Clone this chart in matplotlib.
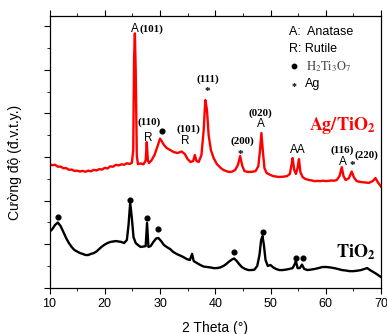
import numpy as np
import matplotlib
matplotlib.use("Agg")
import matplotlib.pyplot as plt
from matplotlib.ticker import MultipleLocator

plt.rcParams['font.family'] = ['Liberation Sans', 'DejaVu Sans']
plt.rcParams['mathtext.fontset'] = 'stix'

# Ag/TiO2 pattern (2 theta, intensity in a.u.)
ag_theta = [10.0, 10.5, 11.0, 11.5, 12.0, 12.5, 13.0, 13.5, 14.0, 14.5, 15.0, 15.5,
            16.0, 16.5, 17.0, 17.5, 18.0, 18.5, 19.0, 19.5, 20.0, 20.5, 21.0, 21.5,
            22.0, 22.5, 23.0, 23.5, 24.0, 24.5, 24.9, 25.15, 25.3, 25.45, 25.6, 25.8,
            26.0, 26.5, 27.0, 27.4, 27.6, 27.8, 28.0, 28.5, 29.0, 29.5, 30.0, 30.3,
            30.7, 31.2, 31.8, 32.5, 33.2, 33.9, 34.5, 35.0, 35.5, 36.0, 36.3, 36.6,
            37.0, 37.5, 37.9, 38.2, 38.5, 38.8, 39.2, 39.7, 40.3, 41.0, 41.5, 42.0,
            42.5, 43.0, 43.6, 44.1, 44.5, 44.9, 45.3, 46.0, 46.7, 47.3, 47.8, 48.1,
            48.35, 48.6, 48.9, 49.3, 50.0, 50.5, 51.0, 51.5, 52.0, 52.5, 53.0, 53.5,
            53.8, 54.0, 54.3, 54.6, 54.9, 55.15, 55.4, 55.8, 56.3, 57.0, 57.5, 58.0,
            58.5, 59.0, 59.5, 60.0, 60.5, 61.0, 61.5, 62.0, 62.5, 62.9, 63.2, 63.6,
            64.2, 64.7, 65.1, 65.6, 66.3, 67.0, 67.8, 68.5, 69.0, 69.4, 70.0]
ag_int = [5.67, 5.62, 5.64, 5.55, 5.56, 5.48, 5.49, 5.41, 5.42, 5.36, 5.37, 5.33,
          5.36, 5.32, 5.37, 5.34, 5.41, 5.38, 5.44, 5.42, 5.50, 5.47, 5.57, 5.55,
          5.64, 5.61, 5.66, 5.64, 5.71, 5.68, 5.73, 6.30, 10.5, 11.67, 9.9, 6.05,
          5.67, 5.70, 5.66, 5.84, 6.68, 5.84, 5.72, 5.86, 6.09, 6.45, 6.84, 6.73,
          6.55, 6.41, 6.32, 6.22, 6.18, 6.25, 6.13, 5.90, 5.77, 5.81, 6.09, 5.81,
          5.77, 6.09, 7.22, 8.61, 8.15, 7.00, 6.32, 5.95, 5.67, 5.49, 5.40, 5.35,
          5.31, 5.32, 5.40, 5.63, 6.04, 5.58, 5.35, 5.31, 5.32, 5.35, 5.58, 6.31,
          7.10, 6.31, 5.49, 5.26, 5.17, 5.12, 5.10, 5.08, 5.09, 5.10, 5.12, 5.22,
          5.63, 5.95, 5.40, 5.22, 5.50, 5.90, 5.31, 5.08, 4.99, 4.94, 4.92, 4.89,
          4.90, 4.89, 4.91, 4.89, 4.90, 4.92, 4.91, 4.94, 5.13, 5.53, 5.13, 4.94,
          5.03, 5.33, 5.06, 4.89, 4.85, 4.83, 4.81, 4.89, 5.03, 4.85, 4.64]

# TiO2 pattern
ti_theta = [10.0, 10.5, 11.0, 11.5, 12.0, 12.5, 13.0, 13.5, 14.0, 14.5, 15.0, 15.5,
            16.0, 16.5, 17.0, 17.5, 18.0, 18.5, 19.0, 19.5, 20.0, 20.5, 21.0, 21.5,
            22.0, 22.5, 23.0, 23.5, 24.0, 24.3, 24.6, 24.9, 25.2, 25.6, 26.0, 26.5,
            27.0, 27.4, 27.65, 27.9, 28.3, 28.8, 29.3, 29.7, 30.2, 30.7, 31.2, 31.8,
            32.4, 33.0, 33.6, 34.2, 34.8, 35.4, 35.8, 36.1, 36.7, 37.3, 37.9, 38.5,
            39.1, 39.7, 40.3, 40.9, 41.5, 42.0, 42.5, 43.0, 43.4, 43.8, 44.3, 44.8,
            45.4, 46.0, 46.6, 47.1, 47.6, 48.0, 48.3, 48.55, 48.8, 49.1, 49.5, 50.0,
            50.5, 51.0, 51.6, 52.2, 52.8, 53.4, 54.0, 54.4, 54.6, 54.9, 55.3, 55.7,
            56.1, 56.7, 57.3, 58.0, 58.7, 59.4, 60.1, 60.8, 61.5, 62.2, 62.9, 63.6,
            64.3, 65.0, 65.7, 66.4, 67.0, 67.5, 68.0, 68.6, 69.2, 69.7, 70.0]
ti_int = [2.56, 2.69, 2.88, 2.99, 2.83, 2.56, 2.28, 2.05, 1.87, 1.73, 1.66, 1.59,
          1.55, 1.50, 1.50, 1.55, 1.59, 1.66, 1.78, 1.89, 1.98, 2.05, 2.10, 2.12,
          2.14, 2.12, 2.10, 2.05, 2.19, 2.88, 3.89, 3.20, 2.32, 2.05, 1.96, 1.87,
          1.89, 1.91, 2.97, 1.87, 1.91, 2.10, 2.26, 2.28, 2.14, 1.96, 1.87, 1.78,
          1.64, 1.55, 1.48, 1.41, 1.32, 1.27, 1.55, 1.22, 1.13, 1.04, 0.97, 0.95,
          0.93, 0.90, 0.90, 0.93, 1.00, 1.09, 1.20, 1.29, 1.34, 1.25, 1.09, 0.95,
          0.86, 0.81, 0.81, 0.83, 1.00, 1.50, 2.19, 2.37, 1.96, 1.27, 1.00, 1.04,
          0.93, 0.86, 0.81, 0.81, 0.83, 0.86, 0.90, 1.09, 1.22, 0.90, 0.90, 1.06,
          0.86, 0.81, 0.83, 0.86, 0.90, 0.95, 0.95, 0.93, 0.90, 0.86, 0.81, 0.79,
          0.76, 0.76, 0.78, 0.81, 0.86, 0.90, 0.81, 0.72, 0.63, 0.54, 0.49]

# H2Ti3O7 marks on the TiO2 curve and on the Ag/TiO2 curve
dot_theta = [11.5, 24.6, 27.7, 29.7, 43.4, 48.55, 54.6, 55.9, 30.3]
dot_int = [3.26, 4.02, 3.18, 2.68, 1.65, 2.54, 1.38, 1.35, 7.17]

# peak labels: (text, 2theta, intensity, style)
peak_labels = [
    ("A", 25.5, 11.87, "sans"), ("(101)", 26.2, 11.87, "serif_left"),
    ("(110)", 28.0, 7.58, "serif"), ("R", 27.8, 6.89, "sans"),
    ("(101)", 35.16, 7.25, "serif"), ("R", 34.5, 6.71, "sans"),
    ("(111)", 38.7, 9.55, "serif"), ("*", 38.56, 9.0, "star"),
    ("(200)", 44.93, 6.71, "serif"), ("*", 44.6, 6.1, "star"),
    ("(020)", 48.24, 8.01, "serif"), ("A", 48.28, 7.52, "sans"),
    ("AA", 54.92, 6.33, "sans"),
    ("(116)", 62.94, 6.30, "serif"), ("A", 63.07, 5.76, "sans"),
    ("*", 64.88, 5.6, "star"), ("(220)", 67.28, 6.10, "serif"),
]

fig = plt.figure(figsize=(3.87, 3.34), dpi=100)
ax = fig.add_axes([0.128, 0.1386, 0.8565, 0.8144])

ax.plot(ag_theta, ag_int, color='#ff0000', lw=1.7)
ax.plot(ti_theta, ti_int, color='black', lw=1.7)
ax.plot(dot_theta, dot_int, 'o', color='black', ms=3.4, ls='none')

for txt, x, y, kind in peak_labels:
    if kind == "sans":
        ax.text(x, y, txt, ha='center', va='center', fontsize=8.5)
    elif kind == "serif":
        ax.text(x, y, txt, ha='center', va='center', fontsize=7.8,
                family='Liberation Serif', weight='bold')
    elif kind == "serif_left":
        ax.text(x, y, txt, ha='left', va='center', fontsize=7.8,
                family='Liberation Serif', weight='bold')
    else:
        ax.text(x, y, txt, ha='center', va='center', fontsize=8,
                family='Liberation Serif', weight='bold')

# legend block
ax.text(53.4, 11.74, "A:  Anatase", ha='left', va='center', fontsize=9)
ax.text(53.4, 10.96, "R: Rutile", ha='left', va='center', fontsize=9)
ax.plot([54.25], [10.16], 'o', color='black', ms=3.2)
ax.text(56.4, 10.16, r'$\mathrm{H_2Ti_3O_7}$', ha='left', va='center',
        fontsize=9, color='#444444')
ax.text(54.25, 9.25, "*", ha='center', va='center', fontsize=7,
        family='Liberation Serif', weight='bold')
ax.text(56.2, 9.36, "Ag", ha='left', va='center', fontsize=9)

ax.text(62.94, 7.43, r'$\mathbf{Ag/TiO_2}$', ha='center', va='center',
        fontsize=13, color='#ff0000')
ax.text(65.47, 1.65, r'$\mathbf{TiO_2}$', ha='center', va='center',
        fontsize=13, color='black')

ax.set_xlim(10, 70)
ax.set_ylim(0, 12.48)
ax.xaxis.set_major_locator(MultipleLocator(10))
ax.xaxis.set_minor_locator(MultipleLocator(5))
ax.yaxis.set_major_locator(MultipleLocator(2))
ax.yaxis.set_minor_locator(MultipleLocator(1))
ax.tick_params(axis='x', which='both', direction='out', top=True, labelsize=9)
ax.tick_params(axis='x', which='major', length=4)
ax.tick_params(axis='x', which='minor', length=2.5)
ax.tick_params(axis='y', which='both', direction='out', right=False, labelleft=False)
ax.tick_params(axis='y', which='major', length=4)
ax.tick_params(axis='y', which='minor', length=2.5)
for s in ax.spines.values():
    s.set_linewidth(0.9)

ax.set_xlabel("2 Theta (°)", fontsize=10, labelpad=8)
fig.text(0.04, 0.515, "Cường độ (đ.v.t.y.)", rotation=90, ha='center', va='center',
         fontsize=10)

fig.savefig("out.png", dpi=100)
